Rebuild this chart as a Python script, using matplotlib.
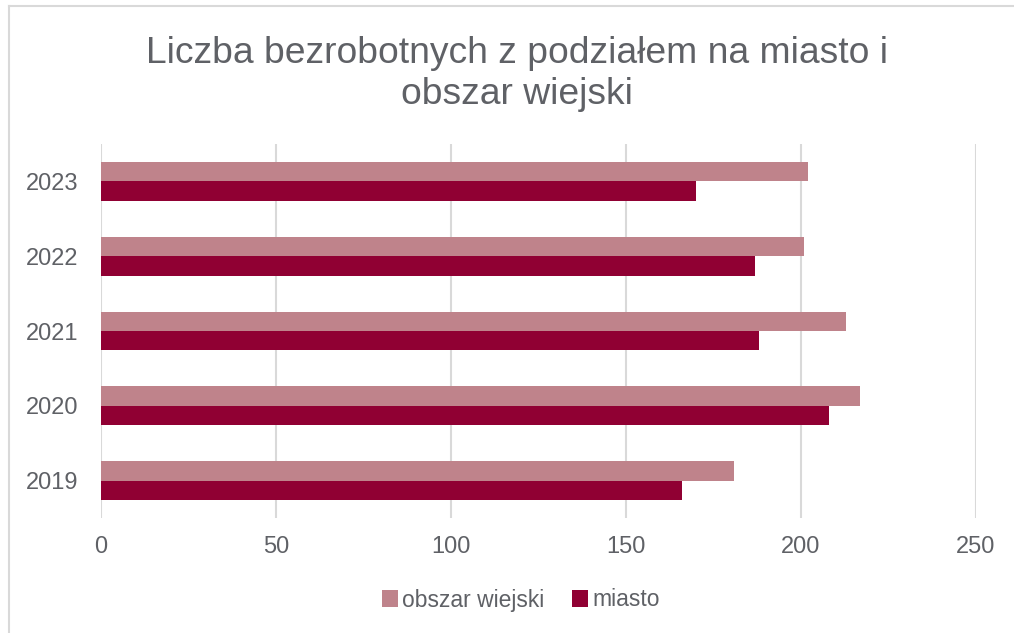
import matplotlib
matplotlib.use('Agg')
import matplotlib.pyplot as plt
import numpy as np
from matplotlib.lines import Line2D

plt.rcParams['font.family'] = ['Liberation Sans', 'DejaVu Sans']

# dane
lata = ['2019', '2020', '2021', '2022', '2023']
obszar_wiejski = [181, 217, 213, 201, 202]
miasto = [166, 208, 188, 187, 170]

kolor_wies = '#BF838B'
kolor_miasto = '#900033'
szary = '#5F6166'
siatka = '#D9D9D9'

fig = plt.figure(figsize=(10.14, 6.33), dpi=100)
ax = fig.add_axes([101 / 1014, 1 - 518 / 633, 875 / 1014, 374 / 633])

y = np.arange(len(lata))
h = 0.26
ax.barh(y + h / 2, obszar_wiejski, height=h, color=kolor_wies, label='obszar wiejski', zorder=3)
ax.barh(y - h / 2, miasto, height=h, color=kolor_miasto, label='miasto', zorder=3)

ax.set_xlim(0, 250)
ax.set_ylim(-0.5, len(lata) - 0.5)
ax.set_xticks(range(0, 251, 50))
ax.set_yticks(y)
ax.set_yticklabels(lata)
ax.grid(axis='x', color=siatka, linewidth=1.5, zorder=0)
for s in ax.spines.values():
    s.set_visible(False)
ax.tick_params(axis='both', length=0, labelsize=17, colors=szary)
ax.tick_params(axis='x', pad=13)
ax.tick_params(axis='y', pad=16)

fig.text(517 / 1014, 1 - 74 / 633, 'Liczba bezrobotnych z podziałem na miasto i\nobszar wiejski',
         ha='center', va='center', fontsize=26.8, color=szary, linespacing=1.25)

ax.legend(loc='center', bbox_to_anchor=(521 / 1014, 1 - 600 / 633), bbox_transform=fig.transFigure,
          ncol=2, frameon=False, fontsize=16.5, labelcolor=szary, handlelength=0.7,
          handleheight=0.7, handletextpad=0.2, columnspacing=1.2)

# ramka wykresu (widoczna tylko góra i lewa strona)
fig.add_artist(Line2D([9 / 1014, 9 / 1014], [0, 1 - 6 / 633], transform=fig.transFigure,
                      color=siatka, linewidth=1.5))
fig.add_artist(Line2D([9 / 1014, 1], [1 - 6 / 633, 1 - 6 / 633], transform=fig.transFigure,
                      color=siatka, linewidth=1.5))

fig.savefig('out.png', dpi=100)
